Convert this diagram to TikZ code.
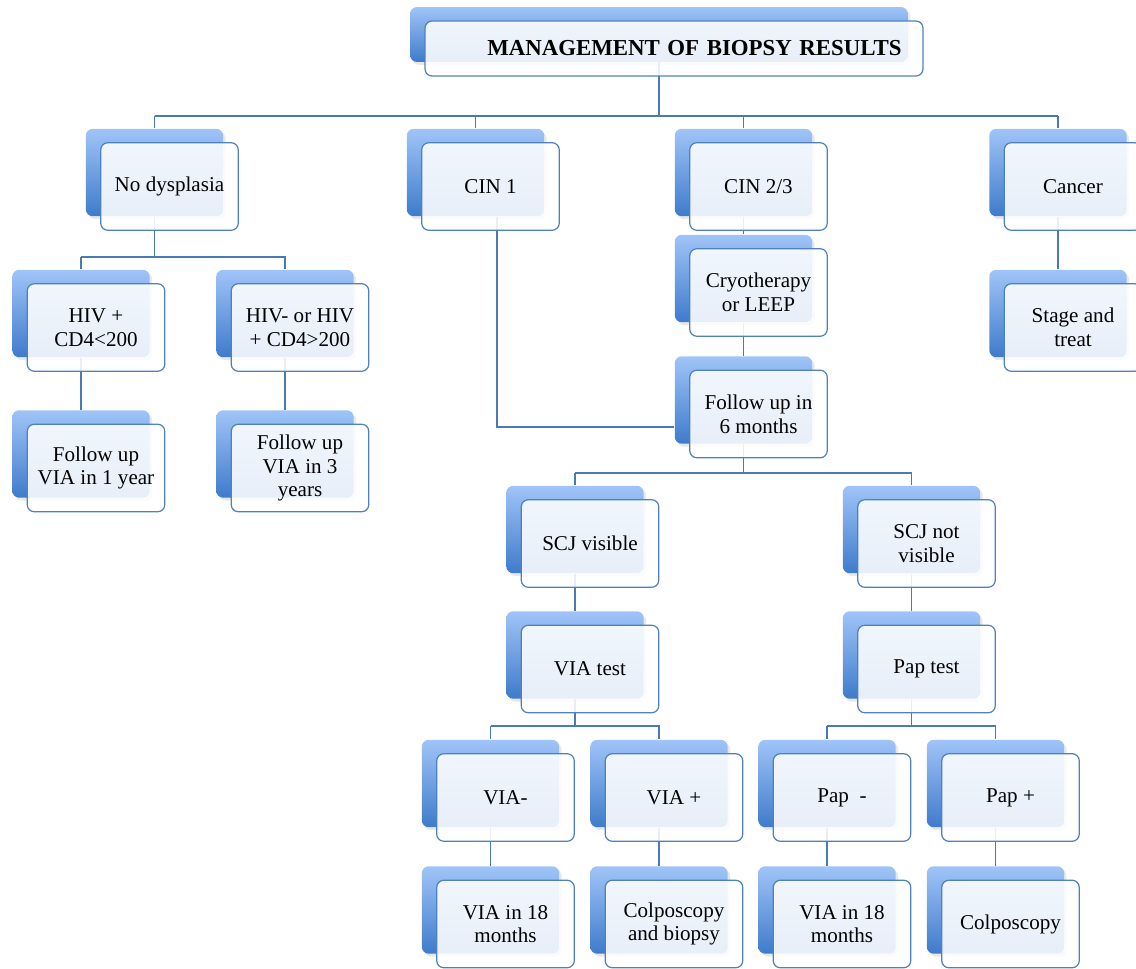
\documentclass[tikz,border=0pt]{standalone}
\usepackage{fontspec}
\setmainfont{Liberation Serif}
\usetikzlibrary{backgrounds,shadows}
\definecolor{boxtop}{HTML}{A0C4F8}
\definecolor{boxbot}{HTML}{3E7BCB}
\definecolor{boxline}{HTML}{4F81BD}
\definecolor{linkcol}{HTML}{4A7AB5}
\tikzset{
	backbox/.style = {rectangle, rounded corners=0.14cm, inner sep=0pt,
		minimum width=2.75cm, minimum height=1.75cm,
		top color=boxtop, bottom color=boxbot,
		drop shadow={opacity=0.18, shadow xshift=0.05cm, shadow yshift=-0.06cm}},% blue card behind
	frontbox/.style = {rectangle, rounded corners=0.14cm, inner sep=2pt,
		minimum width=2.75cm, minimum height=1.75cm, align=center,
		draw=boxline, line width=0.7pt, fill=white, fill opacity=0.88,
		text opacity=1, xshift=0.3cm, yshift=-0.28cm},% white card in front
	link/.style = {draw=linkcol, line width=1pt}
}

\begin{document}
\begin{tikzpicture}[x=0.02cm, y=-0.02cm, font=\fontsize{12}{13.5}\selectfont]
	\useasboundingbox (0,0) rectangle (1136,969);
	% title
	\node[backbox, minimum width=9.96cm, minimum height=1.1cm] (title-b) at (659,34.5) {};
	\node[frontbox, minimum width=9.96cm, minimum height=1.1cm, text width=9.1cm,
		align=right, inner xsep=0.42cm, font=\fontsize{13}{15}\selectfont\bfseries]
		(title) at (title-b) {MANAGEMENT OF BIOPSY RESULTS};
	% first row
	\node[backbox] (nodysp-b) at (154.5,172.5) {};
	\node[frontbox] (nodysp) at (nodysp-b) {No dysplasia};
	\node[backbox] (cin1-b) at (475.5,172.5) {};
	\node[frontbox] (cin1) at (cin1-b) {CIN 1};
	\node[backbox] (cin23-b) at (743.5,172.5) {};
	\node[frontbox] (cin23) at (cin23-b) {CIN 2/3};
	\node[backbox] (cancer-b) at (1058,172.5) {};
	\node[frontbox] (cancer) at (cancer-b) {Cancer};
	% no dysplasia branch
	\node[backbox] (hivpos-b) at (81,313.5) {};
	\node[frontbox] (hivpos) at (hivpos-b) {HIV +\\CD4<200};
	\node[backbox] (hivneg-b) at (285,313.5) {};
	\node[frontbox] (hivneg) at (hivneg-b) {HIV- or HIV\\+ CD4>200};
	\node[backbox] (fu1-b) at (81,454) {};
	\node[frontbox] (fu1) at (fu1-b) {Follow up\\VIA in 1 year};
	\node[backbox] (fu3-b) at (285,454) {};
	\node[frontbox] (fu3) at (fu3-b) {Follow up\\VIA in 3\\years};
	% CIN 2/3 and cancer
	\node[backbox] (cryo-b) at (743.5,278.5) {};
	\node[frontbox] (cryo) at (cryo-b) {Cryotherapy\\or LEEP};
	\node[backbox] (follow6-b) at (743.5,400) {};
	\node[frontbox] (follow6) at (follow6-b) {Follow up in\\6 months};
	\node[backbox] (stage-b) at (1058,313.5) {};
	\node[frontbox] (stage) at (stage-b) {Stage and\\treat};
	% follow up branch
	\node[backbox] (scjv-b) at (575,529.5) {};
	\node[frontbox] (scjv) at (scjv-b) {SCJ visible};
	\node[backbox] (scjn-b) at (911.5,529.5) {};
	\node[frontbox] (scjn) at (scjn-b) {SCJ not\\visible};
	\node[backbox] (viatest-b) at (575,655) {};
	\node[frontbox] (viatest) at (viatest-b) {VIA test};
	\node[backbox] (paptest-b) at (911.5,655) {};
	\node[frontbox] (paptest) at (paptest-b) {Pap test};
	\node[backbox] (vianeg-b) at (490.5,783.5) {};
	\node[frontbox] (vianeg) at (vianeg-b) {VIA-};
	\node[backbox] (viapos-b) at (659,783.5) {};
	\node[frontbox] (viapos) at (viapos-b) {VIA +};
	\node[backbox] (papneg-b) at (827,783.5) {};
	\node[frontbox] (papneg) at (papneg-b) {Pap\ \ -};
	\node[backbox] (pappos-b) at (995.5,783.5) {};
	\node[frontbox] (pappos) at (pappos-b) {Pap +};
	\node[backbox] (via18a-b) at (490.5,910) {};
	\node[frontbox] (via18a) at (via18a-b) {VIA in 18\\months};
	\node[backbox] (colpob-b) at (659,910) {};
	\node[frontbox] (colpob) at (colpob-b) {Colposcopy\\and biopsy};
	\node[backbox] (via18b-b) at (827,910) {};
	\node[frontbox] (via18b) at (via18b-b) {VIA in 18\\months};
	\node[backbox] (colpo-b) at (995.5,910) {};
	\node[frontbox] (colpo) at (colpo-b) {Colposcopy};
	% connectors, behind the cards
	\begin{pgfonlayer}{background}
		\coordinate (bus1) at (0,116);
		\coordinate (bus2) at (0,257);
		\coordinate (bus3) at (0,473);
		\coordinate (bus4) at (0,726);
		\draw[link] (title-b.south) -- (title-b.south |- bus1);
		\draw[link] (nodysp-b.north |- bus1) -- (cancer-b.north |- bus1);
		\foreach \n in {nodysp,cin1,cin23,cancer}
			\draw[link] (\n-b.north |- bus1) -- (\n-b.north);
		\draw[link] (nodysp-b.south) -- (nodysp-b.south |- bus2);
		\draw[link] (hivpos-b.north |- bus2) -| (hivneg-b.north);
		\draw[link] (hivpos-b.north |- bus2) -- (hivpos-b.north);
		\draw[link] (follow6-b.south) -- (follow6-b.south |- bus3);
		\draw[link] (scjv-b.north |- bus3) -| (scjn-b.north);
		\draw[link] (scjv-b.north |- bus3) -- (scjv-b.north);
		\draw[link] (viatest-b.south) -- (viatest-b.south |- bus4);
		\draw[link] (vianeg-b.north |- bus4) -| (viapos-b.north);
		\draw[link] (vianeg-b.north |- bus4) -- (vianeg-b.north);
		\draw[link] (paptest-b.south) -- (paptest-b.south |- bus4);
		\draw[link] (papneg-b.north |- bus4) -| (pappos-b.north);
		\draw[link] (papneg-b.north |- bus4) -- (papneg-b.north);
		\foreach \a/\b in {hivpos/fu1, hivneg/fu3, cin23/cryo, cryo/follow6,
			cancer/stage, scjv/viatest, scjn/paptest, vianeg/via18a,
			viapos/colpob, papneg/via18b, pappos/colpo}
			\draw[link] (\a-b.south) -- (\b-b.north);
		\draw[link] ([xshift=0.43cm]cin1-b.south) |- ([yshift=-0.54cm]follow6-b.west);
	\end{pgfonlayer}
\end{tikzpicture}
\end{document}
